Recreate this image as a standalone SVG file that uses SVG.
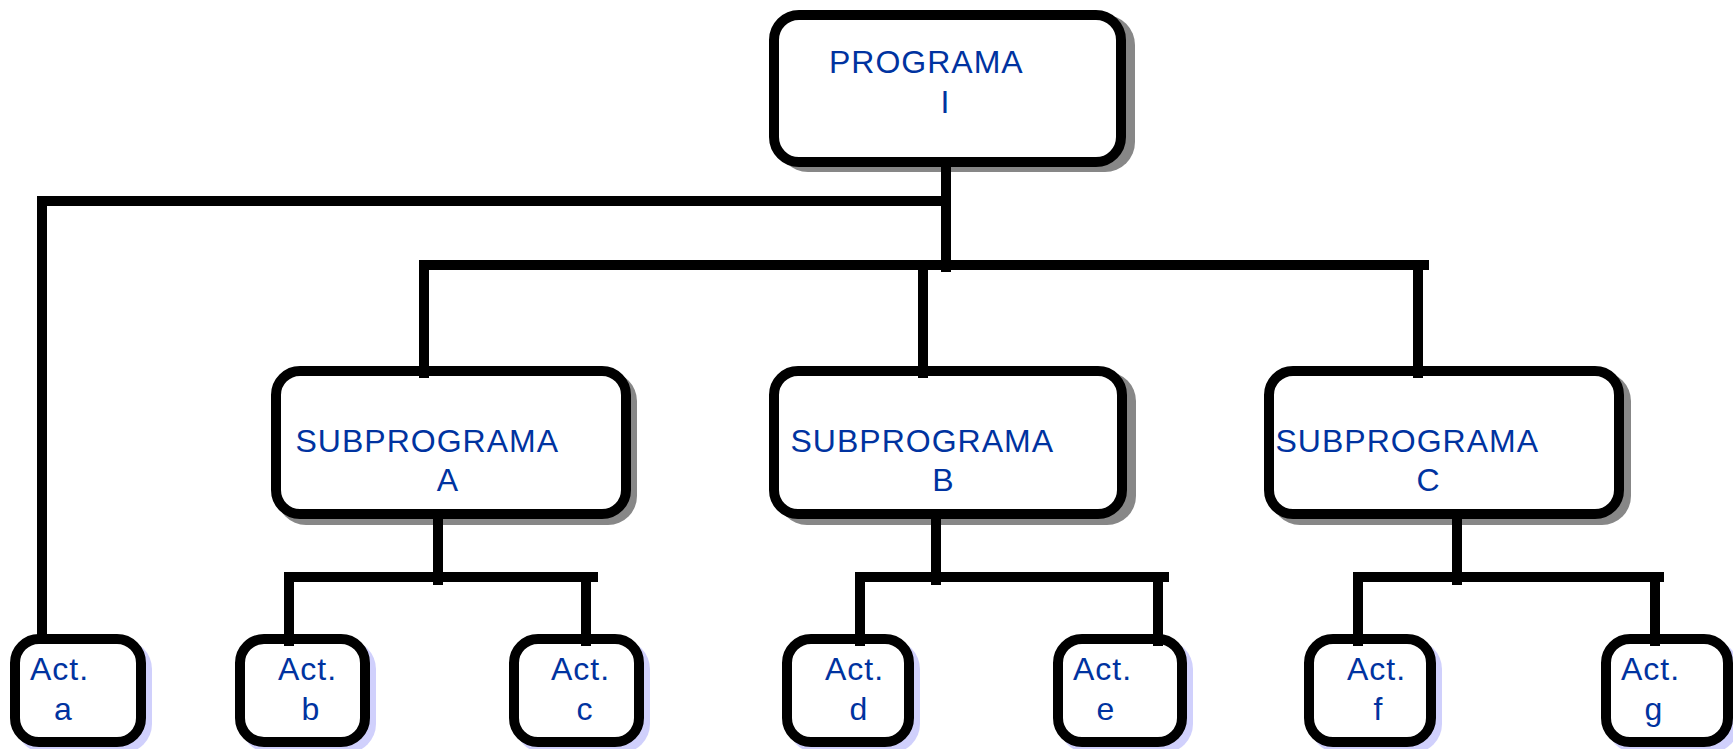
<svg xmlns="http://www.w3.org/2000/svg" width="1733" height="749" viewBox="0 0 1733 749">
<style>
.box{fill:#ffffff;stroke:#000000;stroke-width:10}
.shG{fill:#878787}
.shL{fill:#d0d0fc}
.ln{fill:none;stroke:#000000;stroke-width:10;stroke-linecap:butt;stroke-linejoin:miter}
.t{font-family:"Liberation Sans",Arial,sans-serif;font-size:32px;fill:#0033a0;letter-spacing:1px}
.m{text-anchor:middle;letter-spacing:0}
</style>
<rect width="1733" height="749" fill="#ffffff"/>
<g id="node-programa">
<rect class="shG" x="778" y="15" width="357" height="157" rx="30"/>
<rect class="box" x="774" y="15" width="347" height="147" rx="25"/>
<text class="t" x="829" y="73">PROGRAMA</text>
<text class="t m" x="945" y="113">I</text>
</g>
<g id="node-sub-a">
<rect class="shG" x="277" y="372" width="360" height="153" rx="29"/>
<rect class="box" x="276" y="371" width="350" height="143" rx="24"/>
<text class="t" x="295.5" y="452">SUBPROGRAMA</text>
<text class="t m" x="447.5" y="491">A</text>
</g>
<g id="node-sub-b">
<rect class="shG" x="778" y="372" width="358" height="153" rx="29"/>
<rect class="box" x="774" y="371" width="348" height="143" rx="24"/>
<text class="t" x="790.5" y="452">SUBPROGRAMA</text>
<text class="t m" x="943" y="491">B</text>
</g>
<g id="node-sub-c">
<rect class="shG" x="1271" y="372" width="360" height="153" rx="29"/>
<rect class="box" x="1269" y="371" width="350" height="143" rx="24"/>
<text class="t" x="1275.5" y="452">SUBPROGRAMA</text>
<text class="t m" x="1428" y="491">C</text>
</g>
<g id="node-act-a">
<rect class="shL" x="16" y="640" width="136" height="113" rx="29"/>
<rect class="box" x="15" y="639" width="126" height="103" rx="24"/>
<text class="t" x="30" y="680">Act.</text>
<text class="t m" x="63" y="720">a</text>
</g>
<g id="node-act-b">
<rect class="shL" x="241" y="640" width="135" height="113" rx="29"/>
<rect class="box" x="240" y="639" width="125" height="103" rx="24"/>
<text class="t" x="278" y="680">Act.</text>
<text class="t m" x="310.5" y="720">b</text>
</g>
<g id="node-act-c">
<rect class="shL" x="515" y="640" width="135" height="113" rx="29"/>
<rect class="box" x="514" y="639" width="125" height="103" rx="24"/>
<text class="t" x="551" y="680">Act.</text>
<text class="t m" x="584.5" y="720">c</text>
</g>
<g id="node-act-d">
<rect class="shL" x="788" y="640" width="132" height="113" rx="29"/>
<rect class="box" x="787" y="639" width="122" height="103" rx="24"/>
<text class="t" x="825" y="680">Act.</text>
<text class="t m" x="858.5" y="720">d</text>
</g>
<g id="node-act-e">
<rect class="shL" x="1059" y="640" width="134" height="113" rx="29"/>
<rect class="box" x="1058" y="639" width="124" height="103" rx="24"/>
<text class="t" x="1073" y="680">Act.</text>
<text class="t m" x="1105.5" y="720">e</text>
</g>
<g id="node-act-f">
<rect class="shL" x="1310" y="640" width="132" height="113" rx="29"/>
<rect class="box" x="1309" y="639" width="122" height="103" rx="24"/>
<text class="t" x="1347" y="680">Act.</text>
<text class="t m" x="1378" y="720">f</text>
</g>
<g id="node-act-g">
<rect class="shL" x="1607" y="640" width="132" height="113" rx="29"/>
<rect class="box" x="1606" y="639" width="122" height="103" rx="24"/>
<text class="t" x="1621" y="680">Act.</text>
<text class="t m" x="1653.5" y="720">g</text>
</g>
<g id="connectors">
<path class="ln" d="M946,162 V272"/>
<path class="ln" d="M42,641 V201 H951"/>
<path class="ln" d="M419,265 H1429"/>
<path class="ln" d="M424,260 V378"/>
<path class="ln" d="M923,265 V378"/>
<path class="ln" d="M1418,260 V378"/>
<path class="ln" d="M438,514 V585"/>
<path class="ln" d="M284,577 H598"/>
<path class="ln" d="M289,572 V646"/>
<path class="ln" d="M586,577 V646"/>
<path class="ln" d="M936,514 V585"/>
<path class="ln" d="M855,577 H1169"/>
<path class="ln" d="M860,572 V646"/>
<path class="ln" d="M1158,577 V646"/>
<path class="ln" d="M1457,514 V585"/>
<path class="ln" d="M1353,577 H1664"/>
<path class="ln" d="M1358,572 V646"/>
<path class="ln" d="M1655,577 V646"/>
</g>
</svg>
